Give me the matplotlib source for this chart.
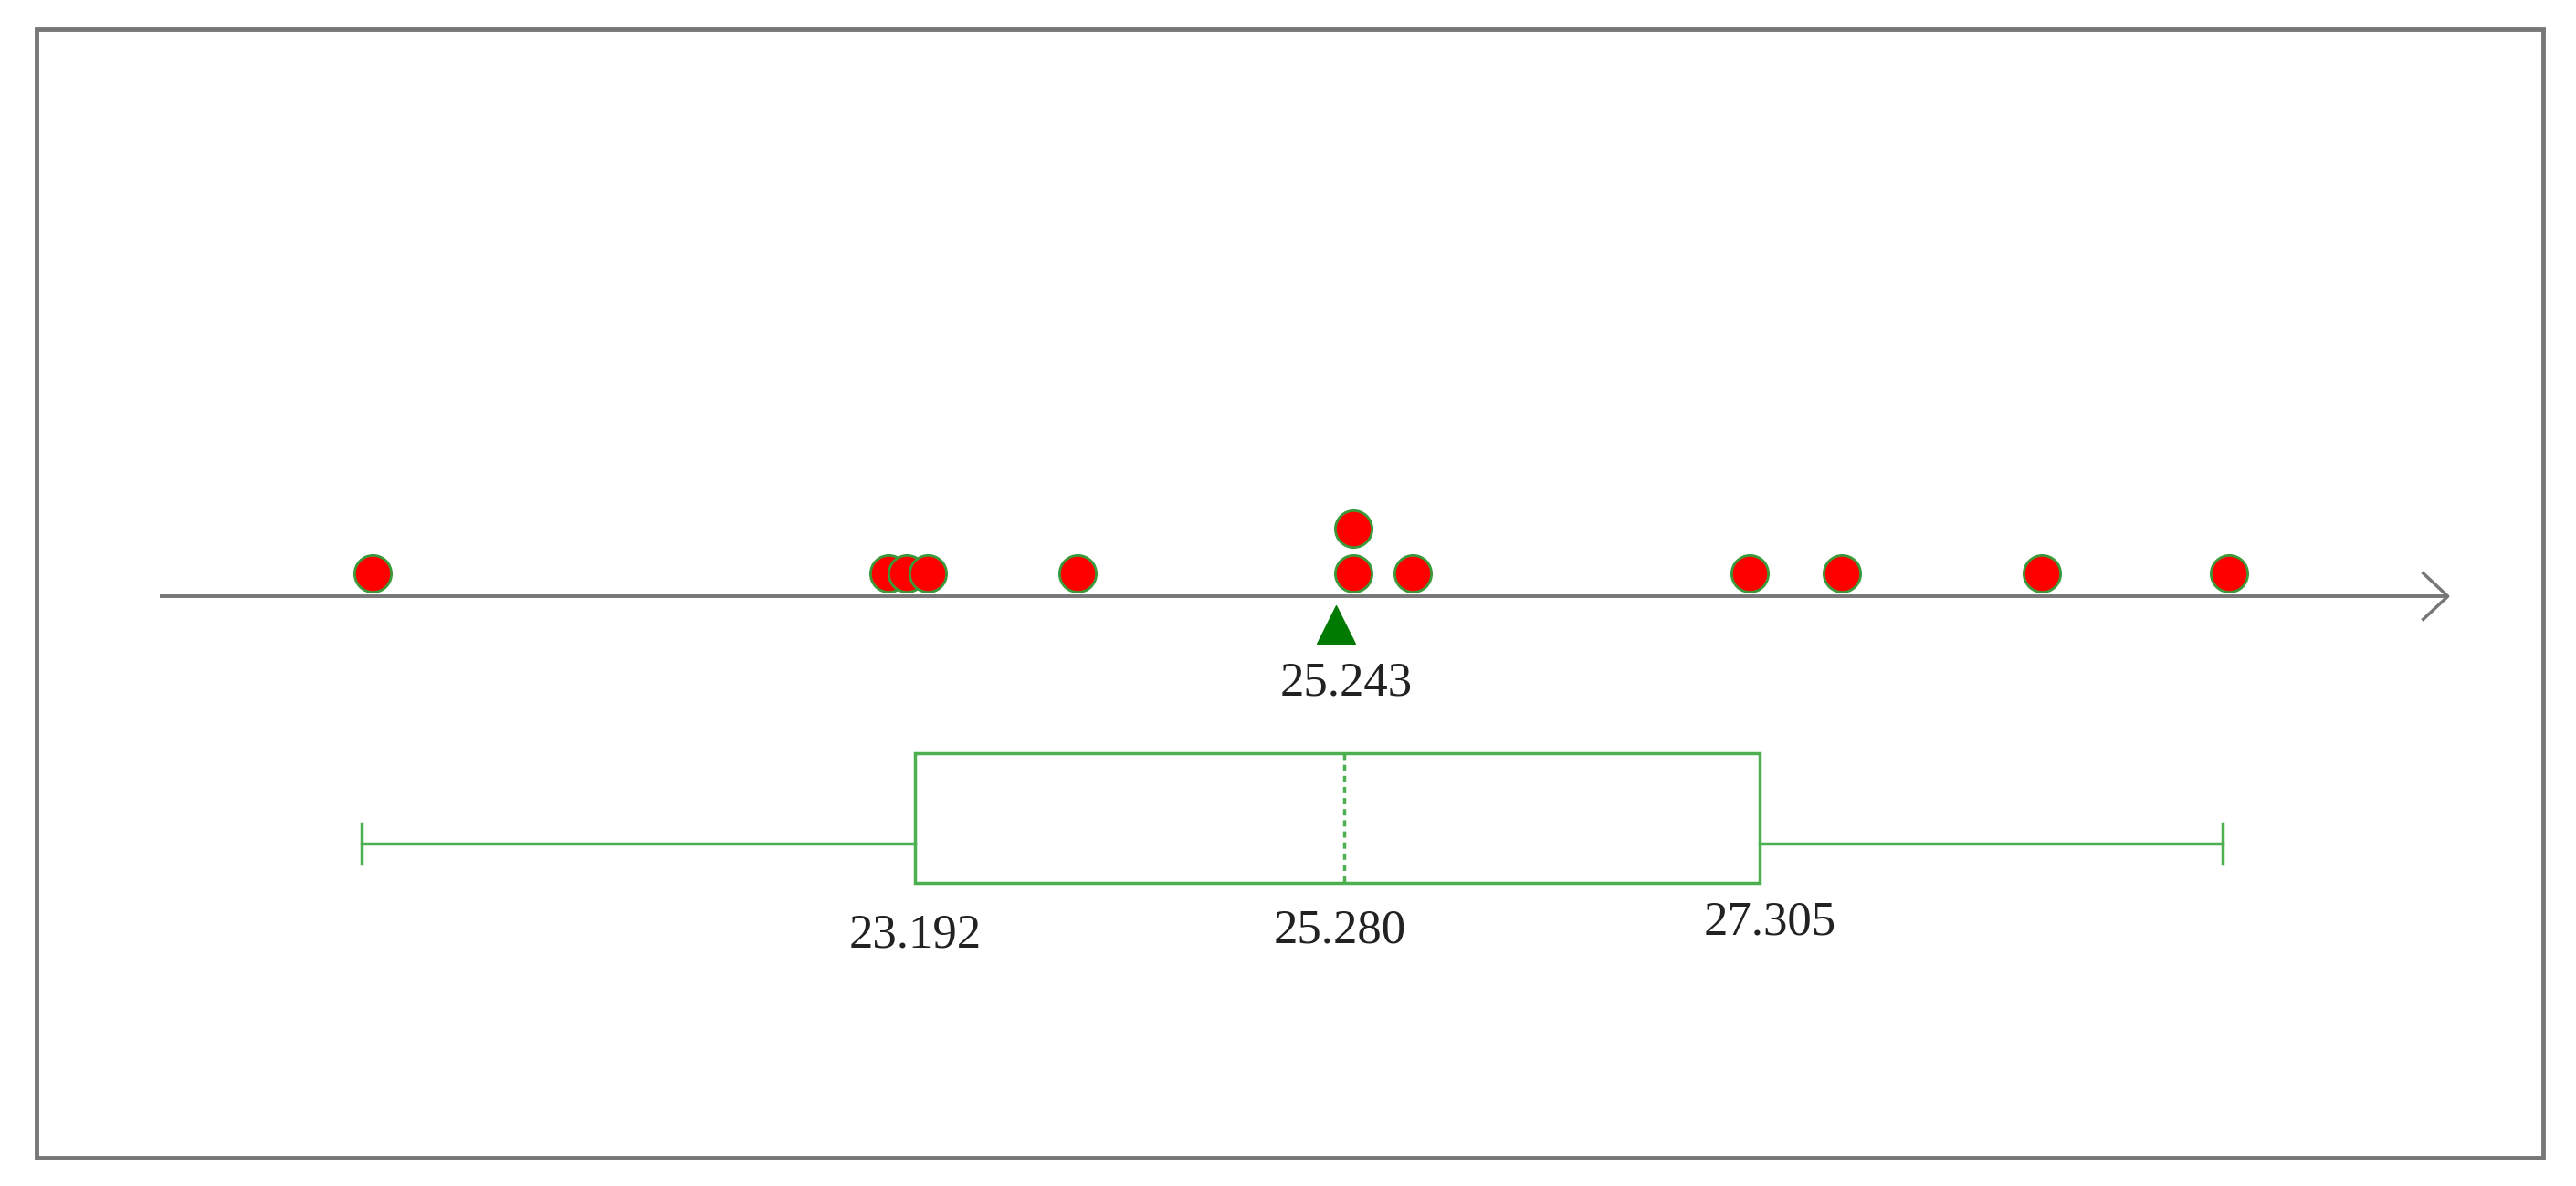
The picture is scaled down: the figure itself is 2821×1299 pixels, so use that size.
import matplotlib
matplotlib.use("Agg")
import matplotlib.pyplot as plt
from matplotlib.patches import Rectangle, Polygon

points = [20.552, 23.064, 23.152, 23.256, 23.984, 25.328, 25.328, 25.616, 27.256, 27.704, 28.68, 29.592]
stack_level = [0, 0, 0, 0, 0, 0, 1, 0, 0, 0, 0, 0]
mean_val = 25.243
q1, med, q3 = 23.192, 25.280, 27.305
wlo, whi = 20.496, 29.56
mean_label, q1_label, med_label, q3_label = "25.243", "23.192", "25.280", "27.305"

S = 1299 / 720
fig = plt.figure(figsize=(28.21, 12.99), dpi=100)
ax = fig.add_axes([0, 0, 1, 1])
ax.axis("off")
def v(px): return 23.192 + (px - 557) / 125.0
ax.set_xlim(v(0), v(1568))
ax.set_ylim(720, 0)

ax.add_patch(Rectangle((v(22), 18), v(1548) - v(22), 685, fill=False, ec="#777777", lw=3.5))
# axis line with open arrow
ax.plot([v(97), v(1490)], [362, 362], color="#777777", lw=2.8, solid_capstyle="butt")
ax.plot([v(1475), v(1490), v(1475)], [348, 362, 376], color="#777777", lw=2.5)

green = "#4caf50"
# box
ax.add_patch(Rectangle((q1, 457), q3 - q1, 79, fill=False, ec=green, lw=2.5))
ax.plot([med, med], [457, 536], color=green, lw=2.5, ls=(0, (2, 1.5)))
ax.plot([wlo, q1], [512, 512], color=green, lw=2.5)
ax.plot([q3, whi], [512, 512], color=green, lw=2.5)
ax.plot([wlo, wlo], [500, 524], color=green, lw=2.5)
ax.plot([whi, whi], [500, 524], color=green, lw=2.5)

# points
ys = [348 - 27 * s for s in stack_level]
ax.scatter(points, ys, s=(29) ** 2 / 1.0, c="red", edgecolors="#3a9a3a", linewidths=2, zorder=5)

# mean triangle
ax.scatter([mean_val], [379], marker="^", s=900, c="#007a00", zorder=5)

fs = 38
tk = dict(family="Liberation Serif", fontsize=fs, ha="center", va="center", color="#222222")
ax.text(mean_val + 0.05, 415, mean_label, **tk)
ax.text(q1, 568, q1_label, **tk)
ax.text(med - 0.02, 565, med_label, **tk)
ax.text(q3 + 0.05, 560, q3_label, **tk)

fig.savefig("out.png", dpi=100)
